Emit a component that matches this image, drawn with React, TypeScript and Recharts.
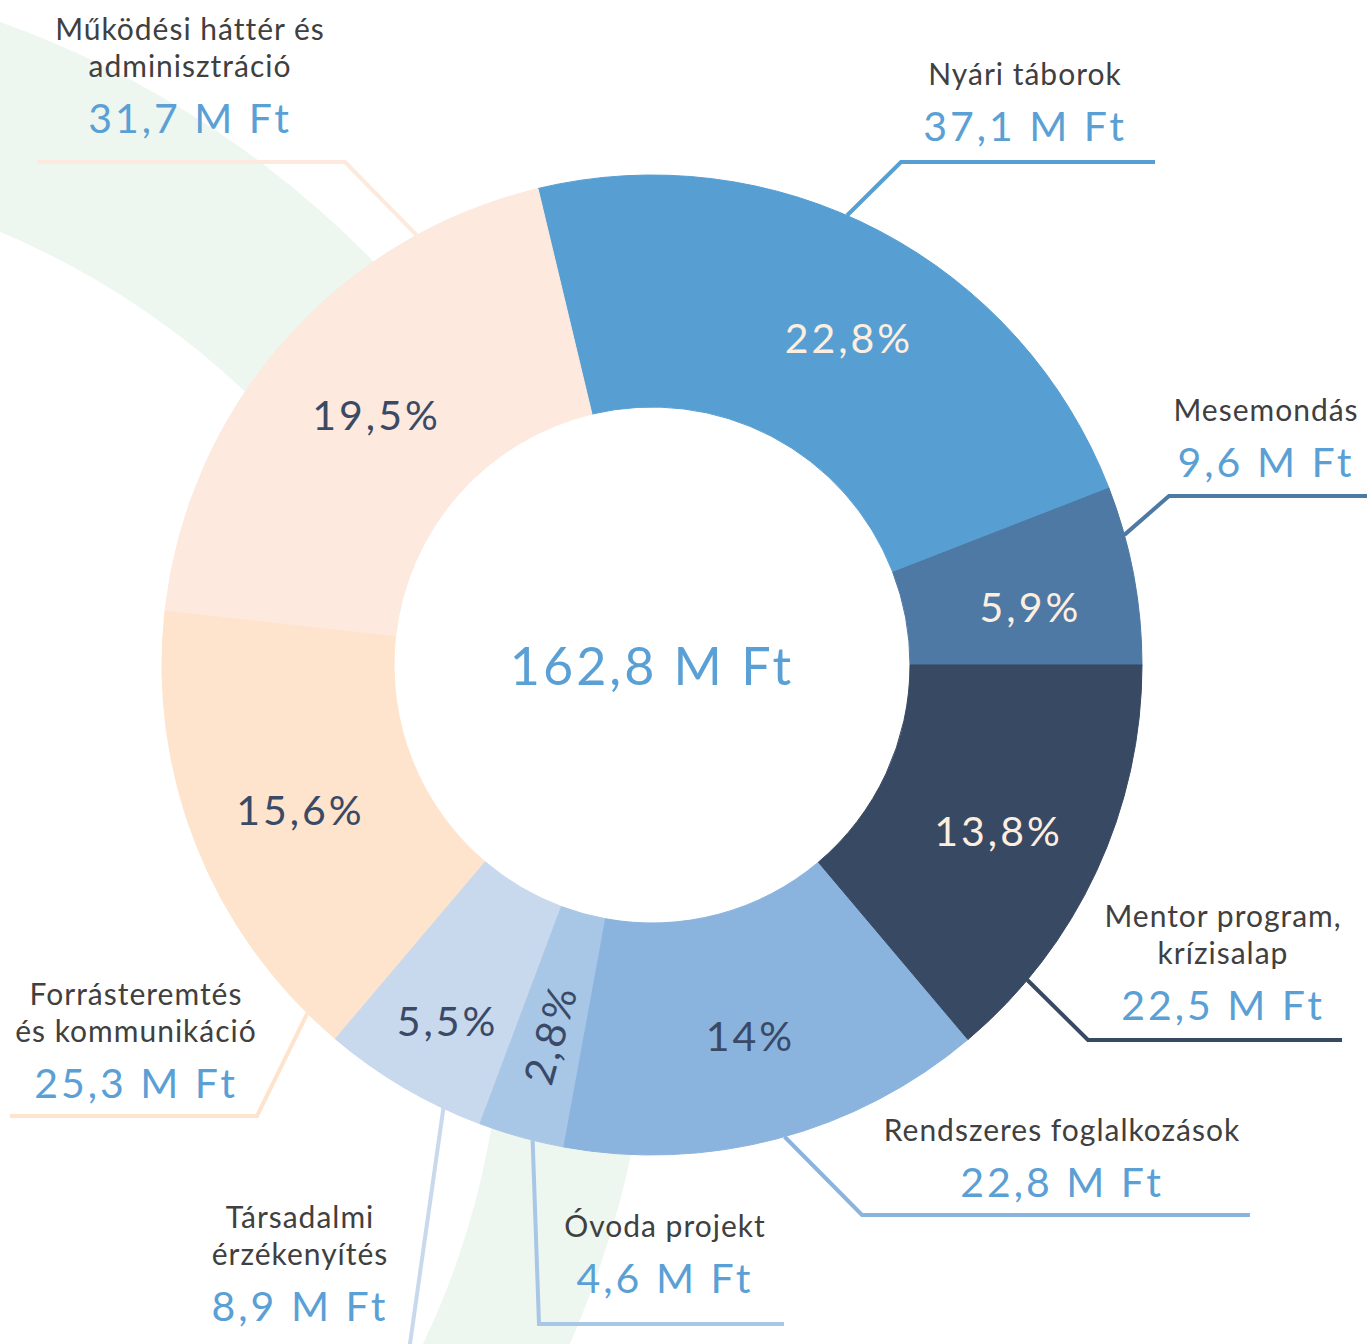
import { PieChart, Pie, Cell } from 'recharts';

// budget items, counter-clockwise from 3 o'clock
const categories = [
  'Mesemondás',
  'Nyári táborok',
  'Működési háttér és adminisztráció',
  'Forrásteremtés és kommunikáció',
  'Társadalmi érzékenyítés',
  'Óvoda projekt',
  'Rendszeres foglalkozások',
  'Mentor program, krízisalap',
];
const nameLines = [
  ['Mesemondás'],
  ['Nyári táborok'],
  ['Működési háttér és', 'adminisztráció'],
  ['Forrásteremtés', 'és kommunikáció'],
  ['Társadalmi', 'érzékenyítés'],
  ['Óvoda projekt'],
  ['Rendszeres foglalkozások'],
  ['Mentor program,', 'krízisalap'],
];
const amounts = [9.6, 37.1, 31.7, 25.3, 8.9, 4.6, 22.8, 22.5];
const percentLabels = ['5,9%', '22,8%', '19,5%', '15,6%', '5,5%', '2,8%', '14%', '13,8%'];
const totalLabel = '162,8 M Ft';

const sliceColors = ['#4d79a4', '#579fd3', '#fde9dd', '#fee4cc', '#c8d9ee', '#a8c6e6', '#8ab4de', '#384963'];
const darkSlices = [0, 1, 7];

const data = categories.map((name, i) => ({ name, value: amounts[i] }));

// hand placed callouts, offsets from the donut centre
const layout = [
  { anchor: 15.4, elbow: [517, -169], endX: 720, text: [614, -244], pctTurn: -1.8, pctShift: 5 },
  { anchor: 66.55, elbow: [249, -503], endX: 503, text: [373, -580], pctTurn: -3.4, pctShift: 4 },
  { anchor: 118.7, elbow: [-307, -503], endX: -615, text: [-462, -625], pctTurn: -0.8, pctShift: -6 },
  { anchor: 225.3, elbow: [-395, 451], endX: -642, text: [-516, 340], pctTurn: 0.6, pctShift: 2 },
  { anchor: 244.8, elbow: [-250, 735], endX: -250, text: [-352, 563], pctTurn: 0.5, pctShift: 32 },
  { anchor: 255.9, elbow: [-113, 659], endX: 132, text: [13, 572], pctTurn: 0, pctShift: 5, rotate: true },
  { anchor: 285.7, elbow: [210, 550], endX: 598, text: [410, 476], pctTurn: 0, pctShift: 5 },
  { anchor: 320.0, elbow: [436, 375], endX: 690, text: [571, 262], pctTurn: -0.6, pctShift: 6 },
];

const FONT = 'Lato, "Open Sans", sans-serif';
const RAD = Math.PI / 180;
const polar = (cx: number, cy: number, r: number, deg: number) => [
  cx + r * Math.cos(-deg * RAD),
  cy + r * Math.sin(-deg * RAD),
];
const fmtAmount = (v: number) => `${v.toFixed(1).replace('.', ',')} M Ft`;

function SliceLabel(props: any) {
  const { cx, cy, midAngle, innerRadius, outerRadius, index } = props;
  const L = layout[index];
  const [px, py] = polar(cx, cy, (innerRadius + outerRadius) / 2 + 4 + L.pctShift, midAngle + L.pctTurn);
  const [sx, sy] = polar(cx, cy, outerRadius, L.anchor);
  const ex = cx + L.elbow[0];
  const ey = cy + L.elbow[1];
  const tx = cx + L.text[0];
  const ty = cy + L.text[1];
  const lines = nameLines[index];
  const valueY = ty + (lines.length - 1) * 37 + 56;
  const color = sliceColors[index];

  return (
    <g>
      <polyline
        points={`${sx},${sy} ${ex},${ey} ${cx + L.endX},${ey}`}
        fill="none"
        stroke={color}
        strokeWidth={4}
        strokeLinejoin="miter"
      />
      <text
        x={px}
        y={py}
        textAnchor="middle"
        dominantBaseline="central"
        fontFamily={FONT}
        fontSize={41}
        letterSpacing={3}
        fill={darkSlices.includes(index) ? '#fdeee0' : '#3a4a66'}
        transform={L.rotate ? `rotate(${180 - midAngle} ${px} ${py})` : undefined}
      >
        {percentLabels[index]}
      </text>
      <text x={tx} y={ty} textAnchor="middle" fontFamily={FONT} fontSize={30} letterSpacing={1} fill="#404040">
        {lines.map((line, j) => (
          <tspan key={j} x={tx} y={ty + j * 37}>{line}</tspan>
        ))}
      </text>
      <text x={tx} y={valueY} textAnchor="middle" fontFamily={FONT} fontSize={41} letterSpacing={3} fill="#5aa0d5">
        {fmtAmount(amounts[index])}
      </text>
      {index === 0 && (
        <text
          x={cx}
          y={cy}
          textAnchor="middle"
          dominantBaseline="central"
          fontFamily={FONT}
          fontSize={52}
          letterSpacing={3}
          fill="#5aa0d5"
        >
          {totalLabel}
        </text>
      )}
    </g>
  );
}

const backdrop = [{ name: 'band', value: 1 }];

export default function App() {
  return (
    <div style={{ position: 'absolute', left: 0, top: 0, width: 1367, height: 1344, background: '#fff' }}>
      <PieChart width={1367} height={1344} margin={{ top: 0, right: 0, bottom: 0, left: 0 }}>
        {/* pale green swoosh behind the donut */}
        <Pie data={backdrop} dataKey="value" cx={-330} cy={948} innerRadius={0} outerRadius={983}
          startAngle={0} endAngle={360} fill="#edf6ef" stroke="none" isAnimationActive={false} />
        <Pie data={backdrop} dataKey="value" cx={-320} cy={990} innerRadius={0} outerRadius={823}
          startAngle={0} endAngle={360} fill="#ffffff" stroke="none" isAnimationActive={false} />
        <Pie data={backdrop} dataKey="value" cx={652} cy={665} innerRadius={0} outerRadius={258}
          startAngle={0} endAngle={360} fill="#ffffff" stroke="none" isAnimationActive={false} />
        <Pie
          data={data}
          dataKey="value"
          nameKey="name"
          cx={652}
          cy={665}
          innerRadius={258}
          outerRadius={490}
          startAngle={0}
          endAngle={360}
          paddingAngle={0}
          label={SliceLabel}
          labelLine={false}
          isAnimationActive={false}
        >
          {data.map((d, i) => (
            <Cell key={d.name} fill={sliceColors[i]} stroke={sliceColors[i]} strokeWidth={1} />
          ))}
        </Pie>
      </PieChart>
    </div>
  );
}
